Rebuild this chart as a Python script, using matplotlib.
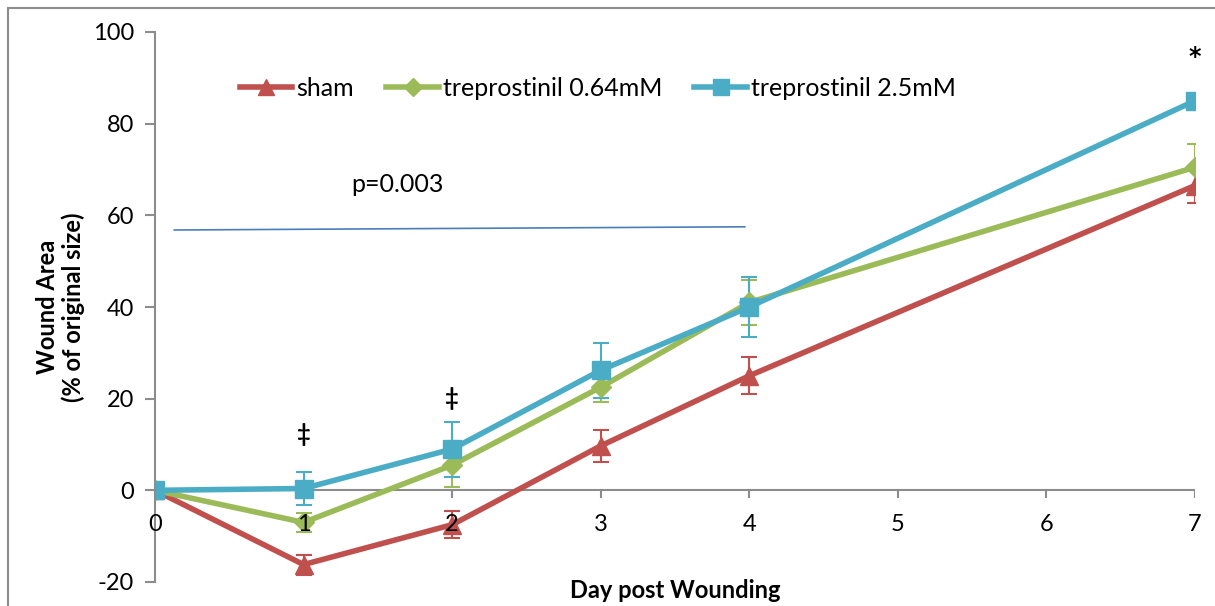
import matplotlib.pyplot as plt
from matplotlib.patches import Rectangle
from matplotlib.lines import Line2D

days = [0, 1, 2, 3, 4, 7]
sham = [0, -16.2, -7.5, 9.7, 25.0, 66.5]
sham_err = [0, 2.2, 3.0, 3.5, 4.0, 3.7]
trep_low = [0, -7.0, 5.5, 22.5, 41.0, 70.5]
trep_low_err = [0, 2.0, 4.8, 3.3, 5.0, 5.0]
trep_high = [0, 0.4, 9.0, 26.2, 40.0, 85.0]
trep_high_err = [0, 3.5, 6.0, 6.0, 6.5, 0]

plt.rcParams['font.family'] = ['Lato', 'DejaVu Sans']
plt.rcParams['axes.unicode_minus'] = False

fig = plt.figure(figsize=(12.15, 6.06), dpi=100)
fig.patches.append(Rectangle((8 / 1215, -0.1), 1.2, 1.1 - 8 / 606,
                             transform=fig.transFigure, fill=False,
                             edgecolor='#8c8c8c', linewidth=1.5))
ax = fig.add_axes([155 / 1215, 24 / 606, 1040 / 1215, 550 / 606])

series = [
    ('sham', sham, sham_err, '#C0504D', '^', 13),
    ('treprostinil 0.64mM', trep_low, trep_low_err, '#9BBB59', 'D', 10),
    ('treprostinil 2.5mM', trep_high, trep_high_err, '#4BACC6', 's', 13),
]
handles = []
for name, vals, err, col, mk, ms in series:
    ax.errorbar(days, vals, yerr=err, color=col, linewidth=4, marker=mk,
                markersize=ms, capsize=6, elinewidth=1.5, capthick=1.5)
    handles.append(Line2D([], [], color=col, linewidth=4, marker=mk,
                          markersize=ms - 1, label=name))

ax.plot([0.13, 3.97], [56.8, 57.5], color='#4a7ebb', linewidth=1.2)
ax.text(1.63, 65, 'p=0.003', fontsize=18, ha='center')
ax.text(1, 10.5, '\u2021', fontsize=17, ha='center', fontweight='bold')
ax.text(2, 18.5, '\u2021', fontsize=17, ha='center', fontweight='bold')
ax.text(7, 93, '*', fontsize=17, ha='center', fontweight='bold',
        family='DejaVu Sans')

ax.set_xlim(0, 7)
ax.set_ylim(-20, 100)
ax.set_yticks(range(-20, 101, 20))
ax.set_xticks([])
for s in ['top', 'right', 'bottom']:
    ax.spines[s].set_visible(False)
ax.spines['left'].set_color('#8c8c8c')
ax.spines['left'].set_linewidth(1.5)
ax.axhline(0, color='#8c8c8c', linewidth=1.5, zorder=0)
ax.tick_params(axis='y', labelsize=17, color='#8c8c8c', length=7, width=1.5, pad=8)
for d in range(8):
    ax.plot([d, d], [0, -1.5], color='#8c8c8c', linewidth=1.5, zorder=0)
    ax.text(d, -7.5, str(d), fontsize=17, ha='center', va='center')

ax.set_ylabel('Wound Area\n(% of original size)', fontsize=17, fontweight='bold',
              labelpad=6, linespacing=1.1)
ax.set_xlabel('Day post Wounding', fontsize=17, fontweight='bold', labelpad=-2)

ax.legend(handles=handles, loc='upper left', bbox_to_anchor=(0.06, 0.96), ncol=3,
          frameon=False, fontsize=18, handlelength=2.1, handletextpad=0.15,
          columnspacing=1.3)

fig.savefig('out.png', dpi=100)
